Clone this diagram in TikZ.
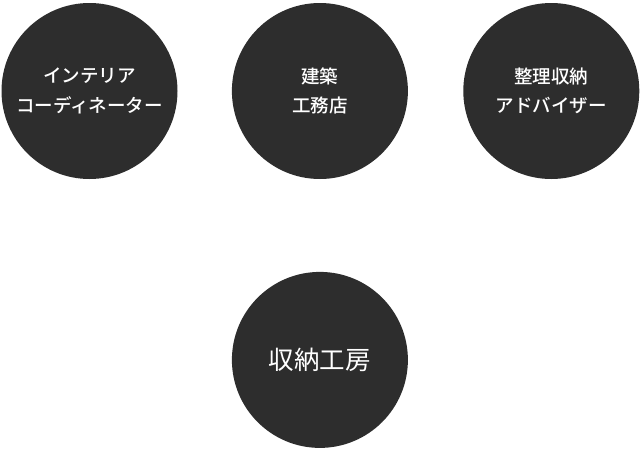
\documentclass[tikz,border=0pt]{standalone}
\usepackage{fontspec}
\newfontfamily\jpfont{Noto Sans CJK JP}
\newfontfamily\jpmediumfont{Noto Sans CJK JP Medium}
\usetikzlibrary{positioning}
\definecolor{circleColor}{RGB}{45,45,45}
\tikzstyle{board} = [x = 1pt, y = -1pt]
\tikzstyle{jobCircle} = [circle, fill=circleColor, minimum size=176pt, inner sep=0pt, text=white, align=center]
\tikzstyle{jobText} = [font=\jpmediumfont\fontsize{18.5pt}{29.5pt}\selectfont]
\tikzstyle{studioText} = [font=\jpfont\fontsize{25.5pt}{30pt}\selectfont]

\begin{document}
\begin{tikzpicture}[board]
      \useasboundingbox (0,0) rectangle (640,450);

      \node [jobCircle, jobText] (interior) at (89.5,91) {インテリア\\コーディネーター};
      \node [jobCircle, jobText, right = 54pt of interior] (builder) {建築\\工務店};
      \node [jobCircle, jobText, right = 55pt of builder] (adviser) {整理収納\\アドバイザー};

      \node [jobCircle, studioText, below = 92.5pt of builder] (studio) {収納工房};
    \end{tikzpicture}
\end{document}
